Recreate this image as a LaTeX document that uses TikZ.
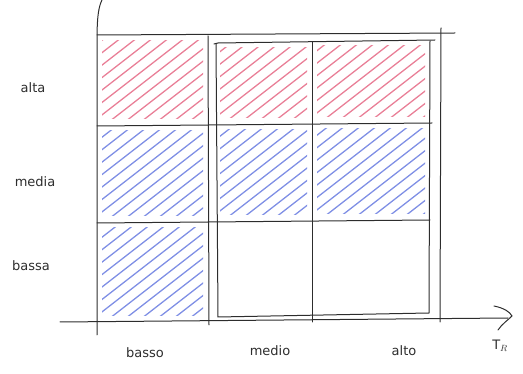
\documentclass[tikz,border=0pt]{standalone}
\usepackage{fontspec}
\setmainfont{DejaVu Sans}
\usetikzlibrary{arrows.meta}
\definecolor{hred}{RGB}{228,95,125}
\definecolor{hblue}{RGB}{95,115,222}
\definecolor{ink}{RGB}{45,45,45}
\newcommand\hatchcell[5]{%
  \begin{scope}
    \clip (#1+5,#2+6) rectangle (#3-5,#4-6);
    \foreach \k in {-200,-184,...,120}
      \draw[hatchline,#5] (#1+\k,#4) -- ++(180,-140);
  \end{scope}}
\tikzset{
  grid/.style={draw=ink,line width=1pt,line cap=round},
  hatchline/.style={line width=1.3pt,opacity=0.8,line cap=round},
  lab/.style={font=\fontsize{13}{15}\selectfont,text=ink,inner sep=1pt}
}
\begin{document}
\begin{tikzpicture}[x=1pt,y=-1pt]
\useasboundingbox (0,0) rectangle (523,374);
% hatching
\hatchcell{97}{35}{208}{125}{hred}
\hatchcell{215}{42}{312}{124}{hred}
\hatchcell{312}{40}{430}{123}{hred}
\hatchcell{97}{125}{208}{222}{hblue}
\hatchcell{215}{124}{312}{221}{hblue}
\hatchcell{312}{123}{430}{220}{hblue}
\hatchcell{97}{222}{208}{322}{hblue}
% axes
\coordinate (yb) at (97,335);
\coordinate (yt) at (102,0);
\coordinate (xl) at (60,322);
\coordinate (xr) at (508,318);
\draw[grid] (yb) -- (97,40) .. controls (97,15) and (99,6) .. (yt);
\draw[grid] (xl) -- (xr);
\draw[grid] (494,306) .. controls (504,308) and (510,312) .. (512,316) .. controls (508,320) and (502,324) .. (498,330);
% grid lines
\draw[grid] (97,35) -- (455,33);
\draw[grid] (97,126) -- (432,123);
\draw[grid] (97,223) -- (430,220);
\draw[grid] (208,36) -- (209,325);
\draw[grid] (312,42) -- (312,322);
\draw[grid] (441,28) -- (440,322);
% inner rectangle
\draw[grid] (214,44) -- (218,43) -- (435,40);
\draw[grid] (430,41) -- (429,313) -- (218,317) -- (216,44);
% labels
\node[lab] (alta) at (33,88) {alta};
\node[lab] (media) at (35,182) {media};
\node[lab] (bassa) at (31,266) {bassa};
\node[lab] (basso) at (145,353) {basso};
\node[lab] (medio) at (270,351) {medio};
\node[lab] (alto) at (404,351) {alto};
\node[lab] (tr) at (500,346) {T$_R$};
\end{tikzpicture}
\end{document}
